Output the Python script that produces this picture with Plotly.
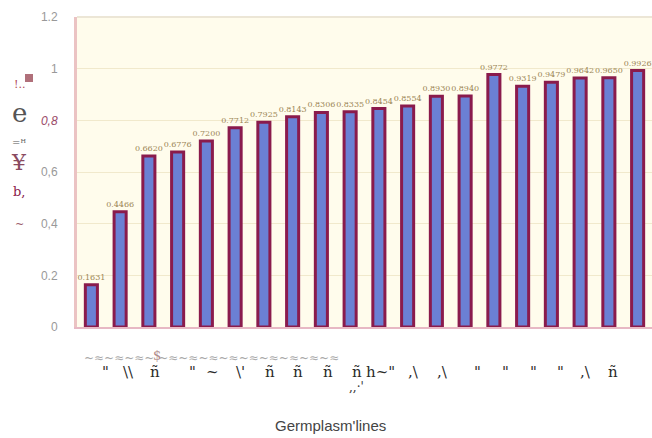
import plotly.graph_objects as go

# Per-line similarity values (20 germplasm lines)
lines = [f"L{i}" for i in range(1, 21)]
values = [0.1631, 0.4466, 0.6620, 0.6776, 0.7200, 0.7712, 0.7925, 0.8143,
          0.8306, 0.8335, 0.8454, 0.8554, 0.8930, 0.8940, 0.9772, 0.9319,
          0.9479, 0.9642, 0.9650, 0.9926]

y_ticks = [0, 0.2, 0.4, 0.6, 0.8, 1.0, 1.2]
y_tick_text = ["0", "0.2", "0,4", "0,6", "<i><span style='color:#9a4a68'>0,8</span></i>", "1", "1.2"]

# Scanned symbols printed under the category axis (pixel x positions)
axis_marks = [(105, '"'), (128, '\\\\'), (155, 'ñ'), (192, '"'), (212, '~'),
              (240, "\\'"), (270, 'ñ'), (298, 'ñ'), (328, 'ñ'), (357, 'ñ'),
              (380, 'h~"'), (413, ',\\'), (442, ',\\'), (478, '"'), (505, '"'),
              (533, '"'), (560, '"'), (585, ',\\'), (613, 'ñ')]

W, H = 652, 438
L, R, T, B = 77, 0, 17, 111
PW, PH = W - L - R, H - T - B


def px2paper(px, py):
    """Figure pixel position -> plot-area paper coordinates."""
    return (px - L) / PW, (H - B - py) / PH


def note(px, py, text, size, color, family="DejaVu Serif", xanchor="center"):
    x, y = px2paper(px, py)
    return dict(x=x, y=y, xref="paper", yref="paper", text=text, showarrow=False,
                xanchor=xanchor, yanchor="middle",
                font=dict(family=family, size=size, color=color))


fig = go.Figure()
fig.add_trace(go.Bar(
    x=lines, y=values, width=0.42,
    marker=dict(color="#6b80d4", line=dict(color="#8a1b4c", width=3)),
    texttemplate="%{y:.4f}", textposition="outside", cliponaxis=False,
    constraintext="none",
    textfont=dict(size=8, color="#9c8656", family="DejaVu Serif"),
))

annotations = []
for px, t in axis_marks:
    annotations.append(note(px, 372, t, 15, "#2a2a2a"))
annotations.append(note(82, 358, "~≈~≈~≈~ ~≈~≈~≈~≈~≈~≈~≈~≈~≈", 12, "#a8a8a8", xanchor="left"))
annotations.append(note(157, 355, "$", 13, "#b08a8a"))
annotations.append(note(356, 387, ",,·'", 12, "#333"))
annotations.append(note(330, 425, "Germplasm'lines", 15, "#444", family="Liberation Sans"))

# Scanned axis title fragments
for py, t, sz, col in [(84, "!..", 11, "#b04a5a"), (113, "e", 26, "#555"),
                       (142, "=ᴴ", 10, "#555"), (162, "¥", 22, "#8a4a60"),
                       (192, "b,", 13, "#8a1b4c"), (224, "~", 11, "#9a5a6a")]:
    annotations.append(note(19, py, t, sz, col))

x0, y0 = px2paper(25, 82)
x1, y1 = px2paper(33, 74)

fig.update_layout(
    width=W, height=H,
    margin=dict(l=L, r=R, t=T, b=B),
    paper_bgcolor="white",
    plot_bgcolor="#fffcec",
    showlegend=False,
    annotations=annotations,
    shapes=[dict(type="rect", xref="paper", yref="paper", x0=x0, x1=x1,
                 y0=y0, y1=y1, fillcolor="#b0707a", line_width=0),
            dict(type="line", xref="paper", yref="paper", x0=0, x1=1, y0=1, y1=1,
                 line=dict(color="#ece6d6", width=2))],
    xaxis=dict(range=[-0.5, 19.5], showticklabels=False, showgrid=False,
               showline=True, linecolor="#e7b8c4", linewidth=2, ticks=""),
    yaxis=dict(range=[0, 1.2], tickvals=y_ticks, ticktext=y_tick_text,
               tickfont=dict(family="Liberation Sans", size=12, color="#999"),
               showgrid=True, gridcolor="#f1e9cc", gridwidth=1, zeroline=False,
               showline=True, linecolor="#ebc3c3", linewidth=3, ticks="",
               ticklabelstandoff=14),
)

fig.write_html("out.html")
